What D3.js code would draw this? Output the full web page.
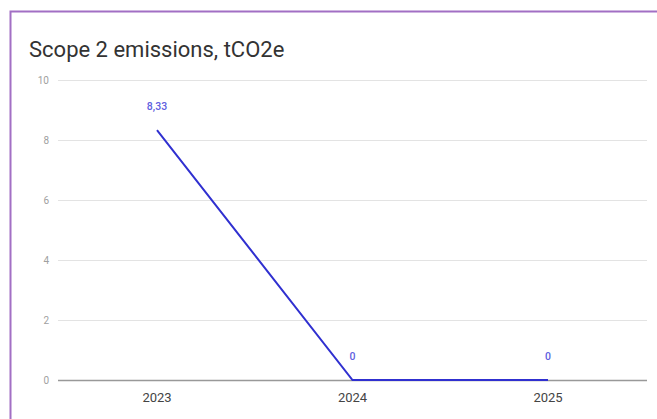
<!DOCTYPE html>
<html><head><meta charset="utf-8">
<script src="https://cdn.jsdelivr.net/npm/d3@7"></script>
<style>body{margin:0;background:#fff;}svg{display:block;font-family:Roboto, Arial, sans-serif;}</style>
</head><body>
<svg id="c" width="657" height="419"></svg>
<script>
const categories = ["2023", "2024", "2025"];
const values = [8.33, 0, 0];
const valueLabels = ["8,33", "0", "0"];
const yTicks = [0, 2, 4, 6, 8, 10];
const title = "Scope 2 emissions, tCO2e";

const svg = d3.select("#c");
// frame border (left & top)
svg.append("path").attr("d", "M10.5,419 L10.5,11.5 L657,11.5")
  .attr("fill", "none").attr("stroke", "#a26fc4").attr("stroke-width", 2);

svg.append("text").attr("x", 29).attr("y", 57).attr("font-size", 22)
  .attr("fill", "#333").text(title);

const x = d3.scalePoint().domain(categories).range([157, 548]);
const y = d3.scaleLinear().domain([0, 10]).range([380, 80]);
const left = 58, right = 647;

const g = svg.append("g");
g.selectAll("line.grid").data(yTicks.filter(d => d !== 0)).join("line")
  .attr("x1", left).attr("x2", right)
  .attr("y1", d => y(d) + 0.5).attr("y2", d => y(d) + 0.5)
  .attr("stroke", "#e3e3e3").attr("stroke-width", 1);
g.selectAll("text.yt").data(yTicks).join("text")
  .attr("x", 49).attr("y", d => y(d) + 4).attr("text-anchor", "end")
  .attr("font-size", 10).attr("fill", "#a0a0a0").text(d => d);

// baseline
g.append("line").attr("x1", left).attr("x2", right)
  .attr("y1", y(0) + 0.5).attr("y2", y(0) + 0.5)
  .attr("stroke", "#999").attr("stroke-width", 1.5);

g.selectAll("text.xt").data(categories).join("text")
  .attr("x", d => x(d)).attr("y", 402).attr("text-anchor", "middle")
  .attr("font-size", 13).attr("fill", "#444").text(d => d);

const line = d3.line().x((d, i) => x(categories[i])).y(d => y(d));
svg.append("path").datum(values).attr("d", line)
  .attr("fill", "none").attr("stroke", "#3030d0").attr("stroke-width", 2);

svg.selectAll("text.vl").data(values).join("text")
  .attr("x", (d, i) => x(categories[i])).attr("y", d => y(d) - 20)
  .attr("text-anchor", "middle").attr("font-size", 10.5).attr("fill", "#6060e0")
  .attr("font-weight", 500)
  .text((d, i) => valueLabels[i]);
</script>
</body></html>
